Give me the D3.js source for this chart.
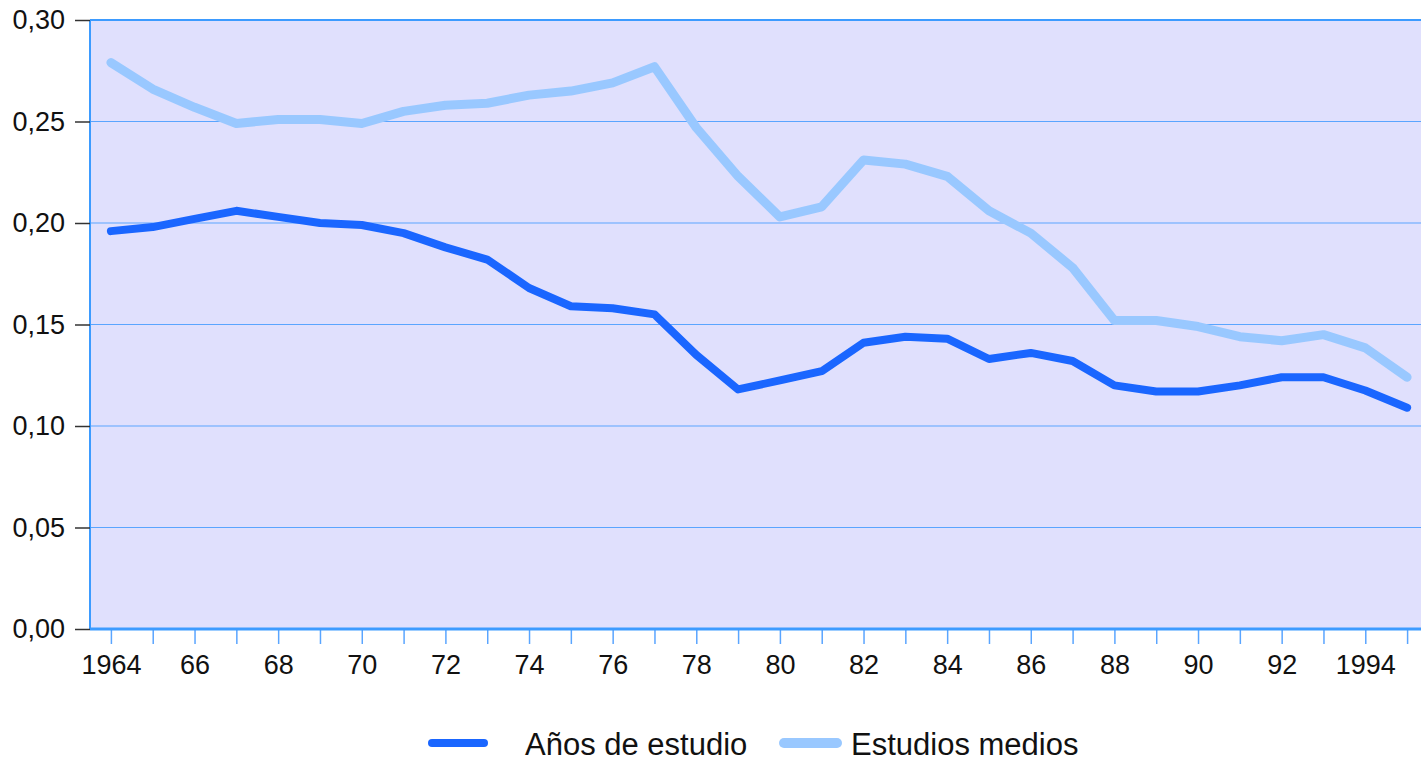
<!DOCTYPE html>
<html>
<head>
<meta charset="utf-8">
<script src="https://cdn.jsdelivr.net/npm/d3@7"></script>
<style>
  body { margin: 0; background: #fff; }
  svg { display: block; font-family: "Liberation Sans", Arial, sans-serif; }
</style>
</head>
<body>
<svg id="chart" width="1421" height="761"></svg>
<script>
// Data
const years = d3.range(1964, 1996);
const aniosEstudio = [
  0.196, 0.198, 0.202, 0.206, 0.203, 0.200, 0.199, 0.195, 0.188, 0.182,
  0.168, 0.159, 0.158, 0.155, 0.135, 0.118, 0.1225, 0.127, 0.141, 0.144,
  0.143, 0.133, 0.136, 0.132, 0.120, 0.117, 0.117, 0.120, 0.124, 0.124,
  0.1175, 0.109
];
const estudiosMedios = [
  0.279, 0.266, 0.257, 0.249, 0.251, 0.251, 0.249, 0.255, 0.258, 0.259,
  0.263, 0.265, 0.269, 0.277, 0.247, 0.223, 0.203, 0.208, 0.231, 0.229,
  0.223, 0.206, 0.195, 0.178, 0.152, 0.152, 0.149, 0.144, 0.142, 0.145,
  0.1385, 0.124
];
const yTicks = [0, 0.05, 0.10, 0.15, 0.20, 0.25, 0.30];
const seriesNames = ['Años de estudio', 'Estudios medios'];

const svg = d3.select('#chart');
const margin = { top: 20, left: 90 };
const plotBottom = 629;
const plotRight = 1428;

const x = d3.scalePoint()
  .domain(years)
  .range([margin.left, plotRight])
  .padding(0.5);

const y = d3.scaleLinear()
  .domain([0, 0.30])
  .range([plotBottom, margin.top]);

const fmt = v => d3.format('.2f')(v).replace('.', ',');

// Plot background
svg.append('rect')
  .attr('x', margin.left)
  .attr('y', margin.top)
  .attr('width', plotRight - margin.left)
  .attr('height', plotBottom - margin.top)
  .attr('fill', '#e0e0fd');

// Grid lines
svg.append('g')
  .selectAll('line')
  .data(yTicks.filter(d => d > 0 && d < 0.30))
  .join('line')
  .attr('x1', margin.left)
  .attr('x2', plotRight)
  .attr('y1', d => y(d))
  .attr('y2', d => y(d))
  .attr('stroke', '#5aa5ff')
  .attr('stroke-width', 1);

// Borders
svg.append('line')
  .attr('x1', margin.left).attr('x2', plotRight)
  .attr('y1', margin.top).attr('y2', margin.top)
  .attr('stroke', '#3d9bff').attr('stroke-width', 2);
svg.append('line')
  .attr('x1', margin.left).attr('x2', margin.left)
  .attr('y1', margin.top).attr('y2', plotBottom)
  .attr('stroke', '#3d9bff').attr('stroke-width', 2);

// Y axis
const yAxis = svg.append('g')
  .attr('transform', `translate(${margin.left},0)`)
  .call(d3.axisLeft(y).tickValues(yTicks).tickFormat(fmt).tickSize(15).tickPadding(10));
yAxis.select('.domain').remove();
yAxis.selectAll('.tick line').attr('stroke', '#333').attr('stroke-width', 1.5);
yAxis.selectAll('.tick text')
  .attr('fill', '#111')
  .attr('font-size', '27px')
  .attr('font-family', '"Liberation Sans", Arial, sans-serif');

// X axis
const xAxis = svg.append('g')
  .attr('transform', `translate(0,${plotBottom})`)
  .call(d3.axisBottom(x)
    .tickSize(15)
    .tickPadding(11)
    .tickFormat(d => (d % 2 !== 0) ? '' : (d === 1964 || d === 1994 ? String(d) : String(d).slice(2))));
xAxis.select('.domain').remove();
xAxis.selectAll('.tick line').attr('stroke', '#5aa5ff').attr('stroke-width', 1.5);
xAxis.selectAll('.tick text')
  .attr('fill', '#111')
  .attr('font-size', '27px')
  .attr('font-family', '"Liberation Sans", Arial, sans-serif');
svg.append('line')
  .attr('x1', margin.left).attr('x2', plotRight)
  .attr('y1', plotBottom).attr('y2', plotBottom)
  .attr('stroke', '#3d9bff').attr('stroke-width', 3);

// Lines
const line = d3.line()
  .x((d, i) => x(years[i]))
  .y(d => y(d));

svg.append('path')
  .datum(estudiosMedios)
  .attr('d', line)
  .attr('fill', 'none')
  .attr('stroke', '#99c8ff')
  .attr('stroke-width', 9)
  .attr('stroke-linecap', 'round')
  .attr('stroke-linejoin', 'round');

svg.append('path')
  .datum(aniosEstudio)
  .attr('d', line)
  .attr('fill', 'none')
  .attr('stroke', '#1a66ff')
  .attr('stroke-width', 8)
  .attr('stroke-linecap', 'round')
  .attr('stroke-linejoin', 'round');

// Legend
const legend = svg.append('g');
const legendItems = [
  { name: seriesNames[0], color: '#1a66ff', width: 8, x0: 432, x1: 484, tx: 525 },
  { name: seriesNames[1], color: '#99c8ff', width: 10, x0: 784, x1: 837, tx: 851 }
];
legendItems.forEach(item => {
  legend.append('line')
    .attr('x1', item.x0)
    .attr('x2', item.x1)
    .attr('y1', 743)
    .attr('y2', 743)
    .attr('stroke', item.color)
    .attr('stroke-width', item.width)
    .attr('stroke-linecap', 'round');
  legend.append('text')
    .attr('x', item.tx)
    .attr('y', 755)
    .attr('fill', '#111')
    .attr('font-size', '31px')
    .text(item.name);
});
</script>
</body>
</html>
